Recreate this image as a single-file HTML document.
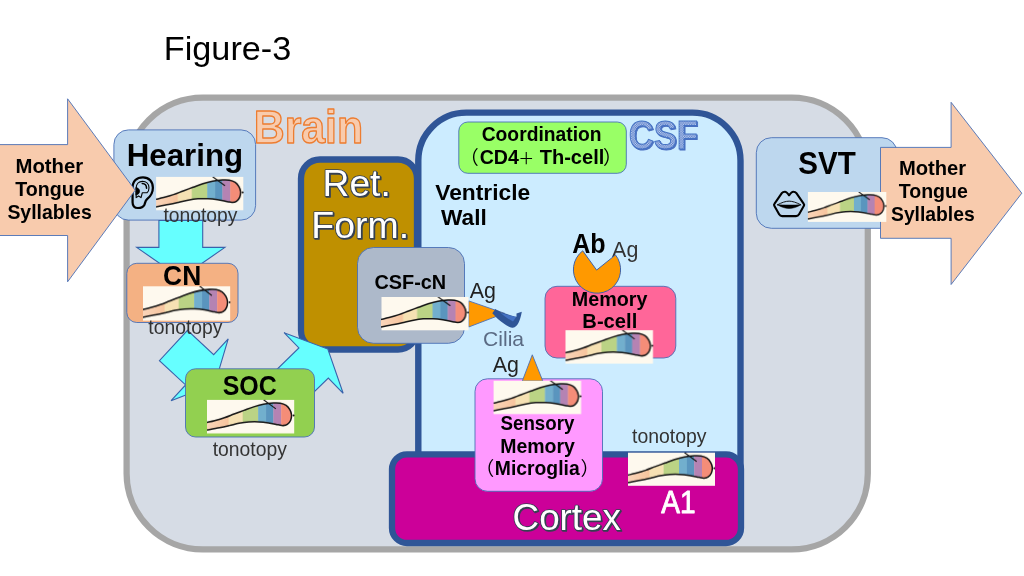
<!DOCTYPE html>
<html lang="en">
<head>
<meta charset="utf-8">
<title>Figure-3</title>
<style>
html,body{margin:0;padding:0;background:#fff;}
body{width:1024px;height:576px;overflow:hidden;}
svg{display:block;font-family:"Liberation Sans", "Noto Sans CJK JP", sans-serif;will-change:transform;}
</style>
</head>
<body>
<svg width="1024" height="576" viewBox="0 0 1024 576">
<defs>
<pattern id="dots" width="2.4" height="2.4" patternUnits="userSpaceOnUse"><rect width="2.4" height="2.4" fill="#5076c6"/><rect x="0" y="0" width="1.2" height="1.2" fill="#c6d5f1"/><rect x="1.2" y="1.2" width="1.2" height="1.2" fill="#c6d5f1"/></pattern>
<filter id="sh" x="-5%" y="-10%" width="110%" height="125%" color-interpolation-filters="sRGB"><feOffset in="SourceAlpha" dx="1.0" dy="1.0" result="o"/><feGaussianBlur in="o" stdDeviation="0.3" result="ob"/><feFlood flood-color="#364152" result="f"/><feComposite in="f" in2="ob" operator="in" result="c"/><feMerge><feMergeNode in="c"/><feMergeNode in="SourceGraphic"/></feMerge></filter>
<filter id="shc" x="-5%" y="-10%" width="110%" height="125%" color-interpolation-filters="sRGB"><feOffset in="SourceAlpha" dx="0.9" dy="0.9" result="o"/><feFlood flood-color="#4a6fc0" result="f"/><feComposite in="f" in2="o" operator="in" result="c"/><feMerge><feMergeNode in="c"/><feMergeNode in="SourceGraphic"/></feMerge></filter>
<linearGradient id="pg" x1="0" y1="0" x2="1" y2="0"><stop offset="0" stop-color="#fad6bb"/><stop offset="1" stop-color="#f7c49d"/></linearGradient>
</defs>
<rect width="1024" height="576" fill="#fff"/>
<rect x="126.6" y="97.6" width="741.20" height="451.80" rx="76" ry="76" fill="#d6dce5" stroke="#a6a6a6" stroke-width="6.25"/>
<rect x="113.9" y="129.9" width="141.70" height="90.20" rx="14.5" ry="14.5" fill="#bdd7ee" stroke="#4a6fb5" stroke-width="0.9"/>
<polygon points="180.80,278.00 136.70,247.40 158.90,247.40 158.90,220.50 202.70,220.50 202.70,247.40 224.90,247.40" fill="#66ffff" stroke="#3a62ab" stroke-width="1.1" stroke-linejoin="miter" />
<rect x="126.8" y="263.3" width="111.20" height="59.20" rx="10" ry="10" fill="#f4b183" stroke="#4a6fb5" stroke-width="0.9"/>
<polygon points="214.84,383.86 171.08,400.65 185.62,384.95 159.43,360.69 187.49,330.39 213.68,354.64 228.22,338.94" fill="#66ffff" stroke="#3a62ab" stroke-width="1.1" stroke-linejoin="miter" />
<rect x="301" y="159.5" width="116.00" height="190.00" rx="19" ry="19" fill="#bf9000" stroke="#2f5597" stroke-width="6.3"/>
<polygon points="327.85,349.10 343.15,393.27 328.31,378.06 301.04,404.67 271.64,374.54 298.91,347.93 284.06,332.72" fill="#66ffff" stroke="#3a62ab" stroke-width="1.1" stroke-linejoin="miter" />
<rect x="185.5" y="368.8" width="129.00" height="68.20" rx="10" ry="10" fill="#92d050" stroke="#4a6fb5" stroke-width="0.9"/>
<rect x="418.3" y="112.6" width="322.20" height="407.40" rx="48" ry="48" fill="#ccecff" stroke="#2f5597" stroke-width="6.4"/>
<rect x="392" y="454.3" width="349.00" height="88.70" rx="15" ry="15" fill="#cc0099" stroke="#2f5597" stroke-width="6.3"/>
<rect x="458.8" y="122" width="167.50" height="51.30" rx="9" ry="9" fill="#99ff66" stroke="#4a6fb5" stroke-width="0.9"/>
<rect x="357.5" y="247.5" width="107.00" height="95.80" rx="16" ry="16" fill="#adb9ca" stroke="#4a6fb5" stroke-width="0.9"/>
<rect x="545" y="286.3" width="130.80" height="71.70" rx="12" ry="12" fill="#ff6699" stroke="#4a6fb5" stroke-width="0.9"/>
<rect x="475" y="378.8" width="127.50" height="112.50" rx="12.5" ry="12.5" fill="#ff99ff" stroke="#4a6fb5" stroke-width="0.9"/>
<rect x="756.3" y="137.7" width="140.70" height="90.60" rx="15" ry="15" fill="#bdd7ee" stroke="#4a6fb5" stroke-width="0.9"/>
<polygon points="880.50,147.40 951.10,147.40 951.10,102.30 1021.80,193.20 951.10,284.50 951.10,238.30 880.50,238.30" fill="#f8cbad" stroke="#4a6fb5" stroke-width="0.9" stroke-linejoin="miter" />
<polygon points="468.70,300.90 504.50,313.30 468.70,327.00" fill="#ff9900" stroke="#4a6fb5" stroke-width="0.9" stroke-linejoin="miter" />
<polygon points="522.30,381.00 532.30,354.80 542.80,381.00" fill="#ff9900" stroke="#4a6fb5" stroke-width="0.9" stroke-linejoin="miter" />
<path d="M492.30,313.30 C493.23,314.23 496.05,317.23 497.90,318.90 C499.75,320.57 501.55,322.00 503.40,323.30 C505.25,324.60 507.42,325.97 509.00,326.70 C510.58,327.43 511.70,327.80 512.90,327.70 C514.10,327.60 515.18,327.10 516.20,326.10 C517.22,325.10 518.25,323.27 519.00,321.70 C519.75,320.13 520.23,318.37 520.70,316.70 C521.17,315.03 521.62,312.53 521.80,311.70 L516.5,313.6 L516.5,316.7 L516.50,316.70 C516.13,316.65 515.55,316.73 514.30,316.40 C513.05,316.07 510.82,315.25 509.00,314.70 C507.18,314.15 504.97,313.65 503.40,313.10 C501.83,312.55 500.93,312.10 499.60,311.40 C498.27,310.70 496.10,309.32 495.40,308.90 Z" fill="#2f5597"/>
<path d="M500.7,313.0 C505,314.2 510,315.6 514.3,316.5 L516.4,316.7 L513.0,321.6 C508.5,319.2 504,316 500.7,313.0 Z" fill="#4472c4"/>
<text id="ag3" x="612.10" y="256.50" font-size="22.97" font-weight="normal" textLength="26.21" lengthAdjust="spacingAndGlyphs" fill="#333" >Ag</text>
<path d="M596.6,270.1 L615.47,254.91 A23.6,23.6 0 1 1 582.73,250.80 Z" fill="#ff9900" stroke="#3f63a8" stroke-width="1" stroke-linejoin="round"/>
<svg x="156.1" y="176.9" width="87.2" height="33.3" viewBox="0 0 87 33.2" preserveAspectRatio="none" overflow="hidden">
<rect x="0" y="0" width="87" height="33.2" fill="#fef9ee"/>
<clipPath id="tc1"><path d="M-3.00,23.00 C-2.50,22.88 -1.77,22.72 0.00,22.30 C1.77,21.88 4.70,21.28 7.60,20.50 C10.50,19.72 14.15,18.70 17.40,17.60 C20.65,16.50 23.85,15.12 27.10,13.90 C30.35,12.68 33.63,11.48 36.90,10.30 C40.17,9.12 43.45,7.82 46.70,6.80 C49.95,5.78 53.15,4.83 56.40,4.20 C59.65,3.57 63.43,3.17 66.20,3.00 C68.97,2.83 70.88,2.80 73.00,3.20 C75.12,3.60 77.30,4.33 78.90,5.40 C80.50,6.47 81.70,8.07 82.60,9.60 C83.50,11.13 84.17,12.82 84.30,14.60 C84.43,16.38 84.08,18.70 83.40,20.30 C82.72,21.90 81.43,23.35 80.20,24.20 C78.97,25.05 77.52,25.33 76.00,25.40 C74.48,25.47 73.55,25.05 71.10,24.60 C68.65,24.15 64.55,23.18 61.30,22.70 C58.05,22.22 54.85,21.85 51.60,21.70 C48.35,21.55 45.07,21.57 41.80,21.80 C38.53,22.03 35.25,22.50 32.00,23.10 C28.75,23.70 25.55,24.67 22.30,25.40 C19.05,26.13 16.22,26.77 12.50,27.50 C8.78,28.23 2.58,29.33 0.00,29.80 C-2.58,30.27 -2.50,30.22 -3.00,30.30 Z"/></clipPath>
<g clip-path="url(#tc1)">
<rect x="-1" y="0" width="22.90" height="33.2" fill="url(#pg)"/>
<rect x="21.6" y="0" width="14.30" height="33.2" fill="#f6e1b3"/>
<rect x="35.6" y="0" width="15.70" height="33.2" fill="#bbd385"/>
<rect x="51.0" y="0" width="8.20" height="33.2" fill="#72afcd"/>
<rect x="58.9" y="0" width="7.60" height="33.2" fill="#5a95be"/>
<rect x="66.2" y="0" width="8.10" height="33.2" fill="#b583b3"/>
<rect x="74.0" y="0" width="13.30" height="33.2" fill="#f48d78"/>
</g>
<path d="M-3.00,23.00 C-2.50,22.88 -1.77,22.72 0.00,22.30 C1.77,21.88 4.70,21.28 7.60,20.50 C10.50,19.72 14.15,18.70 17.40,17.60 C20.65,16.50 23.85,15.12 27.10,13.90 C30.35,12.68 33.63,11.48 36.90,10.30 C40.17,9.12 43.45,7.82 46.70,6.80 C49.95,5.78 53.15,4.83 56.40,4.20 C59.65,3.57 63.43,3.17 66.20,3.00 C68.97,2.83 70.88,2.80 73.00,3.20 C75.12,3.60 77.30,4.33 78.90,5.40 C80.50,6.47 81.70,8.07 82.60,9.60 C83.50,11.13 84.17,12.82 84.30,14.60 C84.43,16.38 84.08,18.70 83.40,20.30 C82.72,21.90 81.43,23.35 80.20,24.20 C78.97,25.05 77.52,25.33 76.00,25.40 C74.48,25.47 73.55,25.05 71.10,24.60 C68.65,24.15 64.55,23.18 61.30,22.70 C58.05,22.22 54.85,21.85 51.60,21.70 C48.35,21.55 45.07,21.57 41.80,21.80 C38.53,22.03 35.25,22.50 32.00,23.10 C28.75,23.70 25.55,24.67 22.30,25.40 C19.05,26.13 16.22,26.77 12.50,27.50 C8.78,28.23 2.58,29.33 0.00,29.80 C-2.58,30.27 -2.50,30.22 -3.00,30.30" fill="none" stroke="#161616" stroke-width="1.5"/>
<path d="M56.4,-0.2 L68.7,8.8" fill="none" stroke="#161616" stroke-width="1.15"/>
<circle cx="86.4" cy="15.4" r="1.0" fill="#161616"/>
</svg>
<svg x="143.0" y="286.3" width="87.2" height="34.5" viewBox="0 0 87 33.2" preserveAspectRatio="none" overflow="hidden">
<rect x="0" y="0" width="87" height="33.2" fill="#fef9ee"/>
<clipPath id="tc2"><path d="M-3.00,23.00 C-2.50,22.88 -1.77,22.72 0.00,22.30 C1.77,21.88 4.70,21.28 7.60,20.50 C10.50,19.72 14.15,18.70 17.40,17.60 C20.65,16.50 23.85,15.12 27.10,13.90 C30.35,12.68 33.63,11.48 36.90,10.30 C40.17,9.12 43.45,7.82 46.70,6.80 C49.95,5.78 53.15,4.83 56.40,4.20 C59.65,3.57 63.43,3.17 66.20,3.00 C68.97,2.83 70.88,2.80 73.00,3.20 C75.12,3.60 77.30,4.33 78.90,5.40 C80.50,6.47 81.70,8.07 82.60,9.60 C83.50,11.13 84.17,12.82 84.30,14.60 C84.43,16.38 84.08,18.70 83.40,20.30 C82.72,21.90 81.43,23.35 80.20,24.20 C78.97,25.05 77.52,25.33 76.00,25.40 C74.48,25.47 73.55,25.05 71.10,24.60 C68.65,24.15 64.55,23.18 61.30,22.70 C58.05,22.22 54.85,21.85 51.60,21.70 C48.35,21.55 45.07,21.57 41.80,21.80 C38.53,22.03 35.25,22.50 32.00,23.10 C28.75,23.70 25.55,24.67 22.30,25.40 C19.05,26.13 16.22,26.77 12.50,27.50 C8.78,28.23 2.58,29.33 0.00,29.80 C-2.58,30.27 -2.50,30.22 -3.00,30.30 Z"/></clipPath>
<g clip-path="url(#tc2)">
<rect x="-1" y="0" width="22.90" height="33.2" fill="url(#pg)"/>
<rect x="21.6" y="0" width="14.30" height="33.2" fill="#f6e1b3"/>
<rect x="35.6" y="0" width="15.70" height="33.2" fill="#bbd385"/>
<rect x="51.0" y="0" width="8.20" height="33.2" fill="#72afcd"/>
<rect x="58.9" y="0" width="7.60" height="33.2" fill="#5a95be"/>
<rect x="66.2" y="0" width="8.10" height="33.2" fill="#b583b3"/>
<rect x="74.0" y="0" width="13.30" height="33.2" fill="#f48d78"/>
</g>
<path d="M-3.00,23.00 C-2.50,22.88 -1.77,22.72 0.00,22.30 C1.77,21.88 4.70,21.28 7.60,20.50 C10.50,19.72 14.15,18.70 17.40,17.60 C20.65,16.50 23.85,15.12 27.10,13.90 C30.35,12.68 33.63,11.48 36.90,10.30 C40.17,9.12 43.45,7.82 46.70,6.80 C49.95,5.78 53.15,4.83 56.40,4.20 C59.65,3.57 63.43,3.17 66.20,3.00 C68.97,2.83 70.88,2.80 73.00,3.20 C75.12,3.60 77.30,4.33 78.90,5.40 C80.50,6.47 81.70,8.07 82.60,9.60 C83.50,11.13 84.17,12.82 84.30,14.60 C84.43,16.38 84.08,18.70 83.40,20.30 C82.72,21.90 81.43,23.35 80.20,24.20 C78.97,25.05 77.52,25.33 76.00,25.40 C74.48,25.47 73.55,25.05 71.10,24.60 C68.65,24.15 64.55,23.18 61.30,22.70 C58.05,22.22 54.85,21.85 51.60,21.70 C48.35,21.55 45.07,21.57 41.80,21.80 C38.53,22.03 35.25,22.50 32.00,23.10 C28.75,23.70 25.55,24.67 22.30,25.40 C19.05,26.13 16.22,26.77 12.50,27.50 C8.78,28.23 2.58,29.33 0.00,29.80 C-2.58,30.27 -2.50,30.22 -3.00,30.30" fill="none" stroke="#161616" stroke-width="1.5"/>
<path d="M56.4,-0.2 L68.7,8.8" fill="none" stroke="#161616" stroke-width="1.15"/>
<circle cx="86.4" cy="15.4" r="1.0" fill="#161616"/>
</svg>
<svg x="207.0" y="399.9" width="87.2" height="33.5" viewBox="0 0 87 33.2" preserveAspectRatio="none" overflow="hidden">
<rect x="0" y="0" width="87" height="33.2" fill="#fef9ee"/>
<clipPath id="tc3"><path d="M-3.00,23.00 C-2.50,22.88 -1.77,22.72 0.00,22.30 C1.77,21.88 4.70,21.28 7.60,20.50 C10.50,19.72 14.15,18.70 17.40,17.60 C20.65,16.50 23.85,15.12 27.10,13.90 C30.35,12.68 33.63,11.48 36.90,10.30 C40.17,9.12 43.45,7.82 46.70,6.80 C49.95,5.78 53.15,4.83 56.40,4.20 C59.65,3.57 63.43,3.17 66.20,3.00 C68.97,2.83 70.88,2.80 73.00,3.20 C75.12,3.60 77.30,4.33 78.90,5.40 C80.50,6.47 81.70,8.07 82.60,9.60 C83.50,11.13 84.17,12.82 84.30,14.60 C84.43,16.38 84.08,18.70 83.40,20.30 C82.72,21.90 81.43,23.35 80.20,24.20 C78.97,25.05 77.52,25.33 76.00,25.40 C74.48,25.47 73.55,25.05 71.10,24.60 C68.65,24.15 64.55,23.18 61.30,22.70 C58.05,22.22 54.85,21.85 51.60,21.70 C48.35,21.55 45.07,21.57 41.80,21.80 C38.53,22.03 35.25,22.50 32.00,23.10 C28.75,23.70 25.55,24.67 22.30,25.40 C19.05,26.13 16.22,26.77 12.50,27.50 C8.78,28.23 2.58,29.33 0.00,29.80 C-2.58,30.27 -2.50,30.22 -3.00,30.30 Z"/></clipPath>
<g clip-path="url(#tc3)">
<rect x="-1" y="0" width="22.90" height="33.2" fill="url(#pg)"/>
<rect x="21.6" y="0" width="14.30" height="33.2" fill="#f6e1b3"/>
<rect x="35.6" y="0" width="15.70" height="33.2" fill="#bbd385"/>
<rect x="51.0" y="0" width="8.20" height="33.2" fill="#72afcd"/>
<rect x="58.9" y="0" width="7.60" height="33.2" fill="#5a95be"/>
<rect x="66.2" y="0" width="8.10" height="33.2" fill="#b583b3"/>
<rect x="74.0" y="0" width="13.30" height="33.2" fill="#f48d78"/>
</g>
<path d="M-3.00,23.00 C-2.50,22.88 -1.77,22.72 0.00,22.30 C1.77,21.88 4.70,21.28 7.60,20.50 C10.50,19.72 14.15,18.70 17.40,17.60 C20.65,16.50 23.85,15.12 27.10,13.90 C30.35,12.68 33.63,11.48 36.90,10.30 C40.17,9.12 43.45,7.82 46.70,6.80 C49.95,5.78 53.15,4.83 56.40,4.20 C59.65,3.57 63.43,3.17 66.20,3.00 C68.97,2.83 70.88,2.80 73.00,3.20 C75.12,3.60 77.30,4.33 78.90,5.40 C80.50,6.47 81.70,8.07 82.60,9.60 C83.50,11.13 84.17,12.82 84.30,14.60 C84.43,16.38 84.08,18.70 83.40,20.30 C82.72,21.90 81.43,23.35 80.20,24.20 C78.97,25.05 77.52,25.33 76.00,25.40 C74.48,25.47 73.55,25.05 71.10,24.60 C68.65,24.15 64.55,23.18 61.30,22.70 C58.05,22.22 54.85,21.85 51.60,21.70 C48.35,21.55 45.07,21.57 41.80,21.80 C38.53,22.03 35.25,22.50 32.00,23.10 C28.75,23.70 25.55,24.67 22.30,25.40 C19.05,26.13 16.22,26.77 12.50,27.50 C8.78,28.23 2.58,29.33 0.00,29.80 C-2.58,30.27 -2.50,30.22 -3.00,30.30" fill="none" stroke="#161616" stroke-width="1.5"/>
<path d="M56.4,-0.2 L68.7,8.8" fill="none" stroke="#161616" stroke-width="1.15"/>
<circle cx="86.4" cy="15.4" r="1.0" fill="#161616"/>
</svg>
<svg x="381.5" y="297.0" width="87.1" height="33.3" viewBox="0 0 87 33.2" preserveAspectRatio="none" overflow="hidden">
<rect x="0" y="0" width="87" height="33.2" fill="#fef9ee"/>
<clipPath id="tc4"><path d="M-3.00,23.00 C-2.50,22.88 -1.77,22.72 0.00,22.30 C1.77,21.88 4.70,21.28 7.60,20.50 C10.50,19.72 14.15,18.70 17.40,17.60 C20.65,16.50 23.85,15.12 27.10,13.90 C30.35,12.68 33.63,11.48 36.90,10.30 C40.17,9.12 43.45,7.82 46.70,6.80 C49.95,5.78 53.15,4.83 56.40,4.20 C59.65,3.57 63.43,3.17 66.20,3.00 C68.97,2.83 70.88,2.80 73.00,3.20 C75.12,3.60 77.30,4.33 78.90,5.40 C80.50,6.47 81.70,8.07 82.60,9.60 C83.50,11.13 84.17,12.82 84.30,14.60 C84.43,16.38 84.08,18.70 83.40,20.30 C82.72,21.90 81.43,23.35 80.20,24.20 C78.97,25.05 77.52,25.33 76.00,25.40 C74.48,25.47 73.55,25.05 71.10,24.60 C68.65,24.15 64.55,23.18 61.30,22.70 C58.05,22.22 54.85,21.85 51.60,21.70 C48.35,21.55 45.07,21.57 41.80,21.80 C38.53,22.03 35.25,22.50 32.00,23.10 C28.75,23.70 25.55,24.67 22.30,25.40 C19.05,26.13 16.22,26.77 12.50,27.50 C8.78,28.23 2.58,29.33 0.00,29.80 C-2.58,30.27 -2.50,30.22 -3.00,30.30 Z"/></clipPath>
<g clip-path="url(#tc4)">
<rect x="-1" y="0" width="22.90" height="33.2" fill="url(#pg)"/>
<rect x="21.6" y="0" width="14.30" height="33.2" fill="#f6e1b3"/>
<rect x="35.6" y="0" width="15.70" height="33.2" fill="#bbd385"/>
<rect x="51.0" y="0" width="8.20" height="33.2" fill="#72afcd"/>
<rect x="58.9" y="0" width="7.60" height="33.2" fill="#5a95be"/>
<rect x="66.2" y="0" width="8.10" height="33.2" fill="#b583b3"/>
<rect x="74.0" y="0" width="13.30" height="33.2" fill="#f48d78"/>
</g>
<path d="M-3.00,23.00 C-2.50,22.88 -1.77,22.72 0.00,22.30 C1.77,21.88 4.70,21.28 7.60,20.50 C10.50,19.72 14.15,18.70 17.40,17.60 C20.65,16.50 23.85,15.12 27.10,13.90 C30.35,12.68 33.63,11.48 36.90,10.30 C40.17,9.12 43.45,7.82 46.70,6.80 C49.95,5.78 53.15,4.83 56.40,4.20 C59.65,3.57 63.43,3.17 66.20,3.00 C68.97,2.83 70.88,2.80 73.00,3.20 C75.12,3.60 77.30,4.33 78.90,5.40 C80.50,6.47 81.70,8.07 82.60,9.60 C83.50,11.13 84.17,12.82 84.30,14.60 C84.43,16.38 84.08,18.70 83.40,20.30 C82.72,21.90 81.43,23.35 80.20,24.20 C78.97,25.05 77.52,25.33 76.00,25.40 C74.48,25.47 73.55,25.05 71.10,24.60 C68.65,24.15 64.55,23.18 61.30,22.70 C58.05,22.22 54.85,21.85 51.60,21.70 C48.35,21.55 45.07,21.57 41.80,21.80 C38.53,22.03 35.25,22.50 32.00,23.10 C28.75,23.70 25.55,24.67 22.30,25.40 C19.05,26.13 16.22,26.77 12.50,27.50 C8.78,28.23 2.58,29.33 0.00,29.80 C-2.58,30.27 -2.50,30.22 -3.00,30.30" fill="none" stroke="#161616" stroke-width="1.5"/>
<path d="M56.4,-0.2 L68.7,8.8" fill="none" stroke="#161616" stroke-width="1.15"/>
<circle cx="86.4" cy="15.4" r="1.0" fill="#161616"/>
</svg>
<svg x="565.5" y="330.2" width="87.6" height="33.5" viewBox="0 0 87 33.2" preserveAspectRatio="none" overflow="hidden">
<rect x="0" y="0" width="87" height="33.2" fill="#fef9ee"/>
<clipPath id="tc5"><path d="M-3.00,23.00 C-2.50,22.88 -1.77,22.72 0.00,22.30 C1.77,21.88 4.70,21.28 7.60,20.50 C10.50,19.72 14.15,18.70 17.40,17.60 C20.65,16.50 23.85,15.12 27.10,13.90 C30.35,12.68 33.63,11.48 36.90,10.30 C40.17,9.12 43.45,7.82 46.70,6.80 C49.95,5.78 53.15,4.83 56.40,4.20 C59.65,3.57 63.43,3.17 66.20,3.00 C68.97,2.83 70.88,2.80 73.00,3.20 C75.12,3.60 77.30,4.33 78.90,5.40 C80.50,6.47 81.70,8.07 82.60,9.60 C83.50,11.13 84.17,12.82 84.30,14.60 C84.43,16.38 84.08,18.70 83.40,20.30 C82.72,21.90 81.43,23.35 80.20,24.20 C78.97,25.05 77.52,25.33 76.00,25.40 C74.48,25.47 73.55,25.05 71.10,24.60 C68.65,24.15 64.55,23.18 61.30,22.70 C58.05,22.22 54.85,21.85 51.60,21.70 C48.35,21.55 45.07,21.57 41.80,21.80 C38.53,22.03 35.25,22.50 32.00,23.10 C28.75,23.70 25.55,24.67 22.30,25.40 C19.05,26.13 16.22,26.77 12.50,27.50 C8.78,28.23 2.58,29.33 0.00,29.80 C-2.58,30.27 -2.50,30.22 -3.00,30.30 Z"/></clipPath>
<g clip-path="url(#tc5)">
<rect x="-1" y="0" width="22.90" height="33.2" fill="url(#pg)"/>
<rect x="21.6" y="0" width="14.30" height="33.2" fill="#f6e1b3"/>
<rect x="35.6" y="0" width="15.70" height="33.2" fill="#bbd385"/>
<rect x="51.0" y="0" width="8.20" height="33.2" fill="#72afcd"/>
<rect x="58.9" y="0" width="7.60" height="33.2" fill="#5a95be"/>
<rect x="66.2" y="0" width="8.10" height="33.2" fill="#b583b3"/>
<rect x="74.0" y="0" width="13.30" height="33.2" fill="#f48d78"/>
</g>
<path d="M-3.00,23.00 C-2.50,22.88 -1.77,22.72 0.00,22.30 C1.77,21.88 4.70,21.28 7.60,20.50 C10.50,19.72 14.15,18.70 17.40,17.60 C20.65,16.50 23.85,15.12 27.10,13.90 C30.35,12.68 33.63,11.48 36.90,10.30 C40.17,9.12 43.45,7.82 46.70,6.80 C49.95,5.78 53.15,4.83 56.40,4.20 C59.65,3.57 63.43,3.17 66.20,3.00 C68.97,2.83 70.88,2.80 73.00,3.20 C75.12,3.60 77.30,4.33 78.90,5.40 C80.50,6.47 81.70,8.07 82.60,9.60 C83.50,11.13 84.17,12.82 84.30,14.60 C84.43,16.38 84.08,18.70 83.40,20.30 C82.72,21.90 81.43,23.35 80.20,24.20 C78.97,25.05 77.52,25.33 76.00,25.40 C74.48,25.47 73.55,25.05 71.10,24.60 C68.65,24.15 64.55,23.18 61.30,22.70 C58.05,22.22 54.85,21.85 51.60,21.70 C48.35,21.55 45.07,21.57 41.80,21.80 C38.53,22.03 35.25,22.50 32.00,23.10 C28.75,23.70 25.55,24.67 22.30,25.40 C19.05,26.13 16.22,26.77 12.50,27.50 C8.78,28.23 2.58,29.33 0.00,29.80 C-2.58,30.27 -2.50,30.22 -3.00,30.30" fill="none" stroke="#161616" stroke-width="1.5"/>
<path d="M56.4,-0.2 L68.7,8.8" fill="none" stroke="#161616" stroke-width="1.15"/>
<circle cx="86.4" cy="15.4" r="1.0" fill="#161616"/>
</svg>
<svg x="493.6" y="380.8" width="87.5" height="33.3" viewBox="0 0 87 33.2" preserveAspectRatio="none" overflow="hidden">
<rect x="0" y="0" width="87" height="33.2" fill="#fef9ee"/>
<clipPath id="tc6"><path d="M-3.00,23.00 C-2.50,22.88 -1.77,22.72 0.00,22.30 C1.77,21.88 4.70,21.28 7.60,20.50 C10.50,19.72 14.15,18.70 17.40,17.60 C20.65,16.50 23.85,15.12 27.10,13.90 C30.35,12.68 33.63,11.48 36.90,10.30 C40.17,9.12 43.45,7.82 46.70,6.80 C49.95,5.78 53.15,4.83 56.40,4.20 C59.65,3.57 63.43,3.17 66.20,3.00 C68.97,2.83 70.88,2.80 73.00,3.20 C75.12,3.60 77.30,4.33 78.90,5.40 C80.50,6.47 81.70,8.07 82.60,9.60 C83.50,11.13 84.17,12.82 84.30,14.60 C84.43,16.38 84.08,18.70 83.40,20.30 C82.72,21.90 81.43,23.35 80.20,24.20 C78.97,25.05 77.52,25.33 76.00,25.40 C74.48,25.47 73.55,25.05 71.10,24.60 C68.65,24.15 64.55,23.18 61.30,22.70 C58.05,22.22 54.85,21.85 51.60,21.70 C48.35,21.55 45.07,21.57 41.80,21.80 C38.53,22.03 35.25,22.50 32.00,23.10 C28.75,23.70 25.55,24.67 22.30,25.40 C19.05,26.13 16.22,26.77 12.50,27.50 C8.78,28.23 2.58,29.33 0.00,29.80 C-2.58,30.27 -2.50,30.22 -3.00,30.30 Z"/></clipPath>
<g clip-path="url(#tc6)">
<rect x="-1" y="0" width="22.90" height="33.2" fill="url(#pg)"/>
<rect x="21.6" y="0" width="14.30" height="33.2" fill="#f6e1b3"/>
<rect x="35.6" y="0" width="15.70" height="33.2" fill="#bbd385"/>
<rect x="51.0" y="0" width="8.20" height="33.2" fill="#72afcd"/>
<rect x="58.9" y="0" width="7.60" height="33.2" fill="#5a95be"/>
<rect x="66.2" y="0" width="8.10" height="33.2" fill="#b583b3"/>
<rect x="74.0" y="0" width="13.30" height="33.2" fill="#f48d78"/>
</g>
<path d="M-3.00,23.00 C-2.50,22.88 -1.77,22.72 0.00,22.30 C1.77,21.88 4.70,21.28 7.60,20.50 C10.50,19.72 14.15,18.70 17.40,17.60 C20.65,16.50 23.85,15.12 27.10,13.90 C30.35,12.68 33.63,11.48 36.90,10.30 C40.17,9.12 43.45,7.82 46.70,6.80 C49.95,5.78 53.15,4.83 56.40,4.20 C59.65,3.57 63.43,3.17 66.20,3.00 C68.97,2.83 70.88,2.80 73.00,3.20 C75.12,3.60 77.30,4.33 78.90,5.40 C80.50,6.47 81.70,8.07 82.60,9.60 C83.50,11.13 84.17,12.82 84.30,14.60 C84.43,16.38 84.08,18.70 83.40,20.30 C82.72,21.90 81.43,23.35 80.20,24.20 C78.97,25.05 77.52,25.33 76.00,25.40 C74.48,25.47 73.55,25.05 71.10,24.60 C68.65,24.15 64.55,23.18 61.30,22.70 C58.05,22.22 54.85,21.85 51.60,21.70 C48.35,21.55 45.07,21.57 41.80,21.80 C38.53,22.03 35.25,22.50 32.00,23.10 C28.75,23.70 25.55,24.67 22.30,25.40 C19.05,26.13 16.22,26.77 12.50,27.50 C8.78,28.23 2.58,29.33 0.00,29.80 C-2.58,30.27 -2.50,30.22 -3.00,30.30" fill="none" stroke="#161616" stroke-width="1.5"/>
<path d="M56.4,-0.2 L68.7,8.8" fill="none" stroke="#161616" stroke-width="1.15"/>
<circle cx="86.4" cy="15.4" r="1.0" fill="#161616"/>
</svg>
<svg x="628.0" y="452.7" width="87.0" height="33.2" viewBox="0 0 87 33.2" preserveAspectRatio="none" overflow="hidden">
<rect x="0" y="0" width="87" height="33.2" fill="#fef9ee"/>
<clipPath id="tc7"><path d="M-3.00,23.00 C-2.50,22.88 -1.77,22.72 0.00,22.30 C1.77,21.88 4.70,21.28 7.60,20.50 C10.50,19.72 14.15,18.70 17.40,17.60 C20.65,16.50 23.85,15.12 27.10,13.90 C30.35,12.68 33.63,11.48 36.90,10.30 C40.17,9.12 43.45,7.82 46.70,6.80 C49.95,5.78 53.15,4.83 56.40,4.20 C59.65,3.57 63.43,3.17 66.20,3.00 C68.97,2.83 70.88,2.80 73.00,3.20 C75.12,3.60 77.30,4.33 78.90,5.40 C80.50,6.47 81.70,8.07 82.60,9.60 C83.50,11.13 84.17,12.82 84.30,14.60 C84.43,16.38 84.08,18.70 83.40,20.30 C82.72,21.90 81.43,23.35 80.20,24.20 C78.97,25.05 77.52,25.33 76.00,25.40 C74.48,25.47 73.55,25.05 71.10,24.60 C68.65,24.15 64.55,23.18 61.30,22.70 C58.05,22.22 54.85,21.85 51.60,21.70 C48.35,21.55 45.07,21.57 41.80,21.80 C38.53,22.03 35.25,22.50 32.00,23.10 C28.75,23.70 25.55,24.67 22.30,25.40 C19.05,26.13 16.22,26.77 12.50,27.50 C8.78,28.23 2.58,29.33 0.00,29.80 C-2.58,30.27 -2.50,30.22 -3.00,30.30 Z"/></clipPath>
<g clip-path="url(#tc7)">
<rect x="-1" y="0" width="22.90" height="33.2" fill="url(#pg)"/>
<rect x="21.6" y="0" width="14.30" height="33.2" fill="#f6e1b3"/>
<rect x="35.6" y="0" width="15.70" height="33.2" fill="#bbd385"/>
<rect x="51.0" y="0" width="8.20" height="33.2" fill="#72afcd"/>
<rect x="58.9" y="0" width="7.60" height="33.2" fill="#5a95be"/>
<rect x="66.2" y="0" width="8.10" height="33.2" fill="#b583b3"/>
<rect x="74.0" y="0" width="13.30" height="33.2" fill="#f48d78"/>
</g>
<path d="M-3.00,23.00 C-2.50,22.88 -1.77,22.72 0.00,22.30 C1.77,21.88 4.70,21.28 7.60,20.50 C10.50,19.72 14.15,18.70 17.40,17.60 C20.65,16.50 23.85,15.12 27.10,13.90 C30.35,12.68 33.63,11.48 36.90,10.30 C40.17,9.12 43.45,7.82 46.70,6.80 C49.95,5.78 53.15,4.83 56.40,4.20 C59.65,3.57 63.43,3.17 66.20,3.00 C68.97,2.83 70.88,2.80 73.00,3.20 C75.12,3.60 77.30,4.33 78.90,5.40 C80.50,6.47 81.70,8.07 82.60,9.60 C83.50,11.13 84.17,12.82 84.30,14.60 C84.43,16.38 84.08,18.70 83.40,20.30 C82.72,21.90 81.43,23.35 80.20,24.20 C78.97,25.05 77.52,25.33 76.00,25.40 C74.48,25.47 73.55,25.05 71.10,24.60 C68.65,24.15 64.55,23.18 61.30,22.70 C58.05,22.22 54.85,21.85 51.60,21.70 C48.35,21.55 45.07,21.57 41.80,21.80 C38.53,22.03 35.25,22.50 32.00,23.10 C28.75,23.70 25.55,24.67 22.30,25.40 C19.05,26.13 16.22,26.77 12.50,27.50 C8.78,28.23 2.58,29.33 0.00,29.80 C-2.58,30.27 -2.50,30.22 -3.00,30.30" fill="none" stroke="#161616" stroke-width="1.5"/>
<path d="M56.4,-0.2 L68.7,8.8" fill="none" stroke="#161616" stroke-width="1.15"/>
<circle cx="86.4" cy="15.4" r="1.0" fill="#161616"/>
</svg>
<svg x="807.9" y="192.0" width="78.4" height="30.0" viewBox="0 0 87 33.2" preserveAspectRatio="none" overflow="hidden">
<rect x="0" y="0" width="87" height="33.2" fill="#fef9ee"/>
<clipPath id="tc8"><path d="M-3.00,23.00 C-2.50,22.88 -1.77,22.72 0.00,22.30 C1.77,21.88 4.70,21.28 7.60,20.50 C10.50,19.72 14.15,18.70 17.40,17.60 C20.65,16.50 23.85,15.12 27.10,13.90 C30.35,12.68 33.63,11.48 36.90,10.30 C40.17,9.12 43.45,7.82 46.70,6.80 C49.95,5.78 53.15,4.83 56.40,4.20 C59.65,3.57 63.43,3.17 66.20,3.00 C68.97,2.83 70.88,2.80 73.00,3.20 C75.12,3.60 77.30,4.33 78.90,5.40 C80.50,6.47 81.70,8.07 82.60,9.60 C83.50,11.13 84.17,12.82 84.30,14.60 C84.43,16.38 84.08,18.70 83.40,20.30 C82.72,21.90 81.43,23.35 80.20,24.20 C78.97,25.05 77.52,25.33 76.00,25.40 C74.48,25.47 73.55,25.05 71.10,24.60 C68.65,24.15 64.55,23.18 61.30,22.70 C58.05,22.22 54.85,21.85 51.60,21.70 C48.35,21.55 45.07,21.57 41.80,21.80 C38.53,22.03 35.25,22.50 32.00,23.10 C28.75,23.70 25.55,24.67 22.30,25.40 C19.05,26.13 16.22,26.77 12.50,27.50 C8.78,28.23 2.58,29.33 0.00,29.80 C-2.58,30.27 -2.50,30.22 -3.00,30.30 Z"/></clipPath>
<g clip-path="url(#tc8)">
<rect x="-1" y="0" width="22.90" height="33.2" fill="url(#pg)"/>
<rect x="21.6" y="0" width="14.30" height="33.2" fill="#f6e1b3"/>
<rect x="35.6" y="0" width="15.70" height="33.2" fill="#bbd385"/>
<rect x="51.0" y="0" width="8.20" height="33.2" fill="#72afcd"/>
<rect x="58.9" y="0" width="7.60" height="33.2" fill="#5a95be"/>
<rect x="66.2" y="0" width="8.10" height="33.2" fill="#b583b3"/>
<rect x="74.0" y="0" width="13.30" height="33.2" fill="#f48d78"/>
</g>
<path d="M-3.00,23.00 C-2.50,22.88 -1.77,22.72 0.00,22.30 C1.77,21.88 4.70,21.28 7.60,20.50 C10.50,19.72 14.15,18.70 17.40,17.60 C20.65,16.50 23.85,15.12 27.10,13.90 C30.35,12.68 33.63,11.48 36.90,10.30 C40.17,9.12 43.45,7.82 46.70,6.80 C49.95,5.78 53.15,4.83 56.40,4.20 C59.65,3.57 63.43,3.17 66.20,3.00 C68.97,2.83 70.88,2.80 73.00,3.20 C75.12,3.60 77.30,4.33 78.90,5.40 C80.50,6.47 81.70,8.07 82.60,9.60 C83.50,11.13 84.17,12.82 84.30,14.60 C84.43,16.38 84.08,18.70 83.40,20.30 C82.72,21.90 81.43,23.35 80.20,24.20 C78.97,25.05 77.52,25.33 76.00,25.40 C74.48,25.47 73.55,25.05 71.10,24.60 C68.65,24.15 64.55,23.18 61.30,22.70 C58.05,22.22 54.85,21.85 51.60,21.70 C48.35,21.55 45.07,21.57 41.80,21.80 C38.53,22.03 35.25,22.50 32.00,23.10 C28.75,23.70 25.55,24.67 22.30,25.40 C19.05,26.13 16.22,26.77 12.50,27.50 C8.78,28.23 2.58,29.33 0.00,29.80 C-2.58,30.27 -2.50,30.22 -3.00,30.30" fill="none" stroke="#161616" stroke-width="1.5"/>
<path d="M56.4,-0.2 L68.7,8.8" fill="none" stroke="#161616" stroke-width="1.15"/>
<circle cx="86.4" cy="15.4" r="1.0" fill="#161616"/>
</svg>
<g transform="translate(131.25,176.2) scale(1.02,1.0)" fill="none" stroke="#000" stroke-linecap="round" stroke-linejoin="round">
<path d="M1.3,12 C1.1,4.7 5.5,1.1 11.5,1.1 C17.5,1.1 21.2,5.5 21.2,11.5 C21.2,17 18.5,20.5 15.5,23 C13.5,24.7 13.8,26.5 12.8,28.8 C11.6,31.2 9,31.8 6.5,31.8 C3,31.8 1.3,29.5 1.3,26 Z" stroke-width="2.2"/>
<path d="M4.8,20 L4.8,12 C4.8,7.5 7.5,5.2 11,5.2 C14.8,5.2 17.4,7.8 17.4,11.5 C17.4,14 16.8,15.6 15.4,16.6 L10.8,16.6 L9.6,21.4 L7.2,19.8 L4.8,21.4 Z" stroke-width="1.1"/>
<path d="M10.8,7.4 C13.5,7.6 15.0,9.4 15.0,12" stroke-width="1.5"/>
<path d="M4.8,11.3 C7.2,11.8 8.2,13.5 8.2,15 C8.2,16.9 6.8,18.5 4.8,18.8 Z" fill="#000" stroke-width="0.6"/>
</g>
<polygon points="-2.00,144.60 67.60,144.60 67.60,98.80 135.20,190.20 67.60,281.80 67.60,235.50 -2.00,235.50" fill="#f8cbad" stroke="#4a6fb5" stroke-width="0.9" stroke-linejoin="miter" />
<g transform="translate(772.8,191.0) scale(1,1.015)" fill="none" stroke="#000" stroke-linecap="round" stroke-linejoin="round">
<path d="M1.6,12.6 L9.0,2.1 C9.9,0.9 11.2,0.7 12.2,0.7 C13.6,0.7 14.6,1.9 16.3,4.2 C18.0,1.9 19.0,0.7 20.4,0.7 C21.4,0.7 22.7,0.9 23.6,2.1 L31.0,12.6 Q31.7,13.5 31.1,14.5 L26.3,22.9 C25.5,24.3 24.6,24.8 23.2,24.8 L9.4,24.8 C8.0,24.8 7.1,24.3 6.3,22.9 L1.5,14.5 Q0.9,13.5 1.6,12.6 Z" stroke-width="2.1"/>
<path d="M4.7,13.6 C9,11.3 13,10.0 16.3,10.0 C19.6,10.0 23.6,11.3 28.0,13.6" stroke-width="0.9"/>
<path d="M4.7,13.6 C9,13.9 23.6,13.9 28,13.6 C24,16.1 19.8,17.2 16.3,17.2 C12.8,17.2 8.7,16.1 4.7,13.6 Z" fill="#000" stroke-width="0.5"/>
</g>
<text id="fig" x="163.80" y="60.30" font-size="33.87" font-weight="normal" textLength="127.49" lengthAdjust="spacingAndGlyphs" fill="#000" >Figure-3</text>
<text id="hear" x="126.75" y="165.85" font-size="32.12" font-weight="bold" textLength="116.36" lengthAdjust="spacingAndGlyphs" fill="#000" >Hearing</text>
<text id="cn" x="163.10" y="284.60" font-size="27.47" font-weight="bold" textLength="38.08" lengthAdjust="spacingAndGlyphs" fill="#000" >CN</text>
<text id="soc" x="222.70" y="394.90" font-size="27.47" font-weight="bold" textLength="54.05" lengthAdjust="spacingAndGlyphs" fill="#000" >SOC</text>
<text id="svt" x="798.35" y="174.20" font-size="32.12" font-weight="bold" textLength="57.53" lengthAdjust="spacingAndGlyphs" fill="#000" >SVT</text>
<text id="csfcn" x="374.45" y="289.10" font-size="20.64" font-weight="bold" textLength="71.78" lengthAdjust="spacingAndGlyphs" fill="#000" >CSF-cN</text>
<text id="coord" x="481.70" y="141.30" font-size="20.64" font-weight="bold" textLength="119.84" lengthAdjust="spacingAndGlyphs" fill="#000" >Coordination</text>
<text id="cd_a_line"><tspan x="459.75" y="165.00" font-size="19.00" font-weight="normal" fill="#000">（</tspan><tspan x="479.70" y="164.00" font-size="20.64" font-weight="bold" textLength="39.18" lengthAdjust="spacingAndGlyphs" fill="#000">CD4</tspan><tspan x="518.30" y="163.75" font-size="16.00" font-weight="normal" fill="#000">＋ </tspan><tspan x="539.65" y="164.00" font-size="20.64" font-weight="bold" textLength="64.65" lengthAdjust="spacingAndGlyphs" fill="#000">Th-cell</tspan><tspan x="602.90" y="165.00" font-size="19.00" font-weight="normal" fill="#000">）</tspan></text>
<text id="vent" x="435.25" y="199.80" font-size="22.97" font-weight="bold" textLength="95.01" lengthAdjust="spacingAndGlyphs" fill="#000" >Ventricle</text>
<text id="wall" x="441.05" y="225.10" font-size="22.97" font-weight="bold" textLength="45.76" lengthAdjust="spacingAndGlyphs" fill="#000" >Wall</text>
<text id="ab" x="572.15" y="253.20" font-size="27.47" font-weight="bold" textLength="33.45" lengthAdjust="spacingAndGlyphs" fill="#000" >Ab</text>
<text id="memb" x="571.85" y="305.60" font-size="20.64" font-weight="bold" textLength="75.53" lengthAdjust="spacingAndGlyphs" fill="#000" >Memory</text>
<text id="bcell" x="582.35" y="328.40" font-size="20.64" font-weight="bold" textLength="54.91" lengthAdjust="spacingAndGlyphs" fill="#000" >B-cell</text>
<text id="sens" x="500.50" y="429.60" font-size="20.64" font-weight="bold" textLength="73.91" lengthAdjust="spacingAndGlyphs" fill="#000" >Sensory</text>
<text id="mems" x="500.20" y="452.60" font-size="20.64" font-weight="bold" textLength="74.74" lengthAdjust="spacingAndGlyphs" fill="#000" >Memory</text>
<text id="mg_a_line"><tspan x="475.25" y="476.10" font-size="19.00" font-weight="normal" fill="#000">（</tspan><tspan x="494.80" y="475.30" font-size="20.64" font-weight="bold" textLength="84.87" lengthAdjust="spacingAndGlyphs" fill="#000">Microglia</tspan><tspan x="580.50" y="476.10" font-size="19.00" font-weight="normal" fill="#000">）</tspan></text>
<text id="moL" x="15.45" y="172.70" font-size="20.64" font-weight="bold" textLength="67.84" lengthAdjust="spacingAndGlyphs" fill="#000" >Mother</text>
<text id="toL" x="15.30" y="195.70" font-size="20.64" font-weight="bold" textLength="69.47" lengthAdjust="spacingAndGlyphs" fill="#000" >Tongue</text>
<text id="syL" x="7.40" y="218.80" font-size="20.64" font-weight="bold" textLength="84.33" lengthAdjust="spacingAndGlyphs" fill="#000" >Syllables</text>
<text id="moR" x="898.95" y="175.10" font-size="20.64" font-weight="bold" textLength="67.25" lengthAdjust="spacingAndGlyphs" fill="#000" >Mother</text>
<text id="toR" x="898.75" y="198.20" font-size="20.64" font-weight="bold" textLength="69.11" lengthAdjust="spacingAndGlyphs" fill="#000" >Tongue</text>
<text id="syR" x="891.00" y="221.10" font-size="20.64" font-weight="bold" textLength="83.72" lengthAdjust="spacingAndGlyphs" fill="#000" >Syllables</text>
<text id="tn1" x="163.50" y="222.40" font-size="19.53" font-weight="normal" textLength="73.90" lengthAdjust="spacingAndGlyphs" fill="#333" >tonotopy</text>
<text id="tn2" x="148.25" y="333.70" font-size="19.53" font-weight="normal" textLength="74.25" lengthAdjust="spacingAndGlyphs" fill="#333" >tonotopy</text>
<text id="tn3" x="212.75" y="455.60" font-size="19.53" font-weight="normal" textLength="74.15" lengthAdjust="spacingAndGlyphs" fill="#333" >tonotopy</text>
<text id="tn4" x="632.00" y="442.90" font-size="19.53" font-weight="normal" textLength="74.50" lengthAdjust="spacingAndGlyphs" fill="#333" >tonotopy</text>
<text id="ag1" x="469.65" y="298.00" font-size="22.97" font-weight="normal" textLength="26.21" lengthAdjust="spacingAndGlyphs" fill="#222" >Ag</text>
<text id="ag2" x="492.70" y="371.75" font-size="22.97" font-weight="normal" textLength="26.20" lengthAdjust="spacingAndGlyphs" fill="#222" >Ag</text>
<text id="cilia" x="483.10" y="345.70" font-size="20.20" font-weight="normal" textLength="40.99" lengthAdjust="spacingAndGlyphs" fill="#5b6b84" >Cilia</text>
<text id="brain" x="253.70" y="142.50" font-size="46.95" font-weight="bold" textLength="109.51" lengthAdjust="spacingAndGlyphs" fill="#f8cbad" stroke="#ed7d31" stroke-width="1.4" stroke-linejoin="round">Brain</text>
<text id="csf" x="628.65" y="149.30" font-size="41.28" font-weight="bold" textLength="69.28" lengthAdjust="spacingAndGlyphs" fill="url(#dots)" stroke="#4472c4" stroke-width="1" filter="url(#shc)">CSF</text>
<text id="ret" x="322.60" y="196.10" font-size="37.21" font-weight="normal" textLength="68.18" lengthAdjust="spacingAndGlyphs" fill="#fff" stroke="#364152" stroke-width="1.7" stroke-linejoin="round" paint-order="stroke" filter="url(#sh)">Ret.</text>
<text id="form" x="311.25" y="237.50" font-size="37.21" font-weight="normal" textLength="97.81" lengthAdjust="spacingAndGlyphs" fill="#fff" stroke="#364152" stroke-width="1.7" stroke-linejoin="round" paint-order="stroke" filter="url(#sh)">Form.</text>
<text id="cortex" x="512.55" y="530.40" font-size="37.21" font-weight="normal" textLength="108.43" lengthAdjust="spacingAndGlyphs" fill="#fff" stroke="#364152" stroke-width="1.7" stroke-linejoin="round" paint-order="stroke" filter="url(#sh)">Cortex</text>
<text id="a1" x="661.25" y="512.70" font-size="31.40" font-weight="normal" textLength="34.27" lengthAdjust="spacingAndGlyphs" fill="#fff" stroke="#fff" stroke-width="0.9" stroke-linejoin="round">A1</text>
</svg>
</body>
</html>
